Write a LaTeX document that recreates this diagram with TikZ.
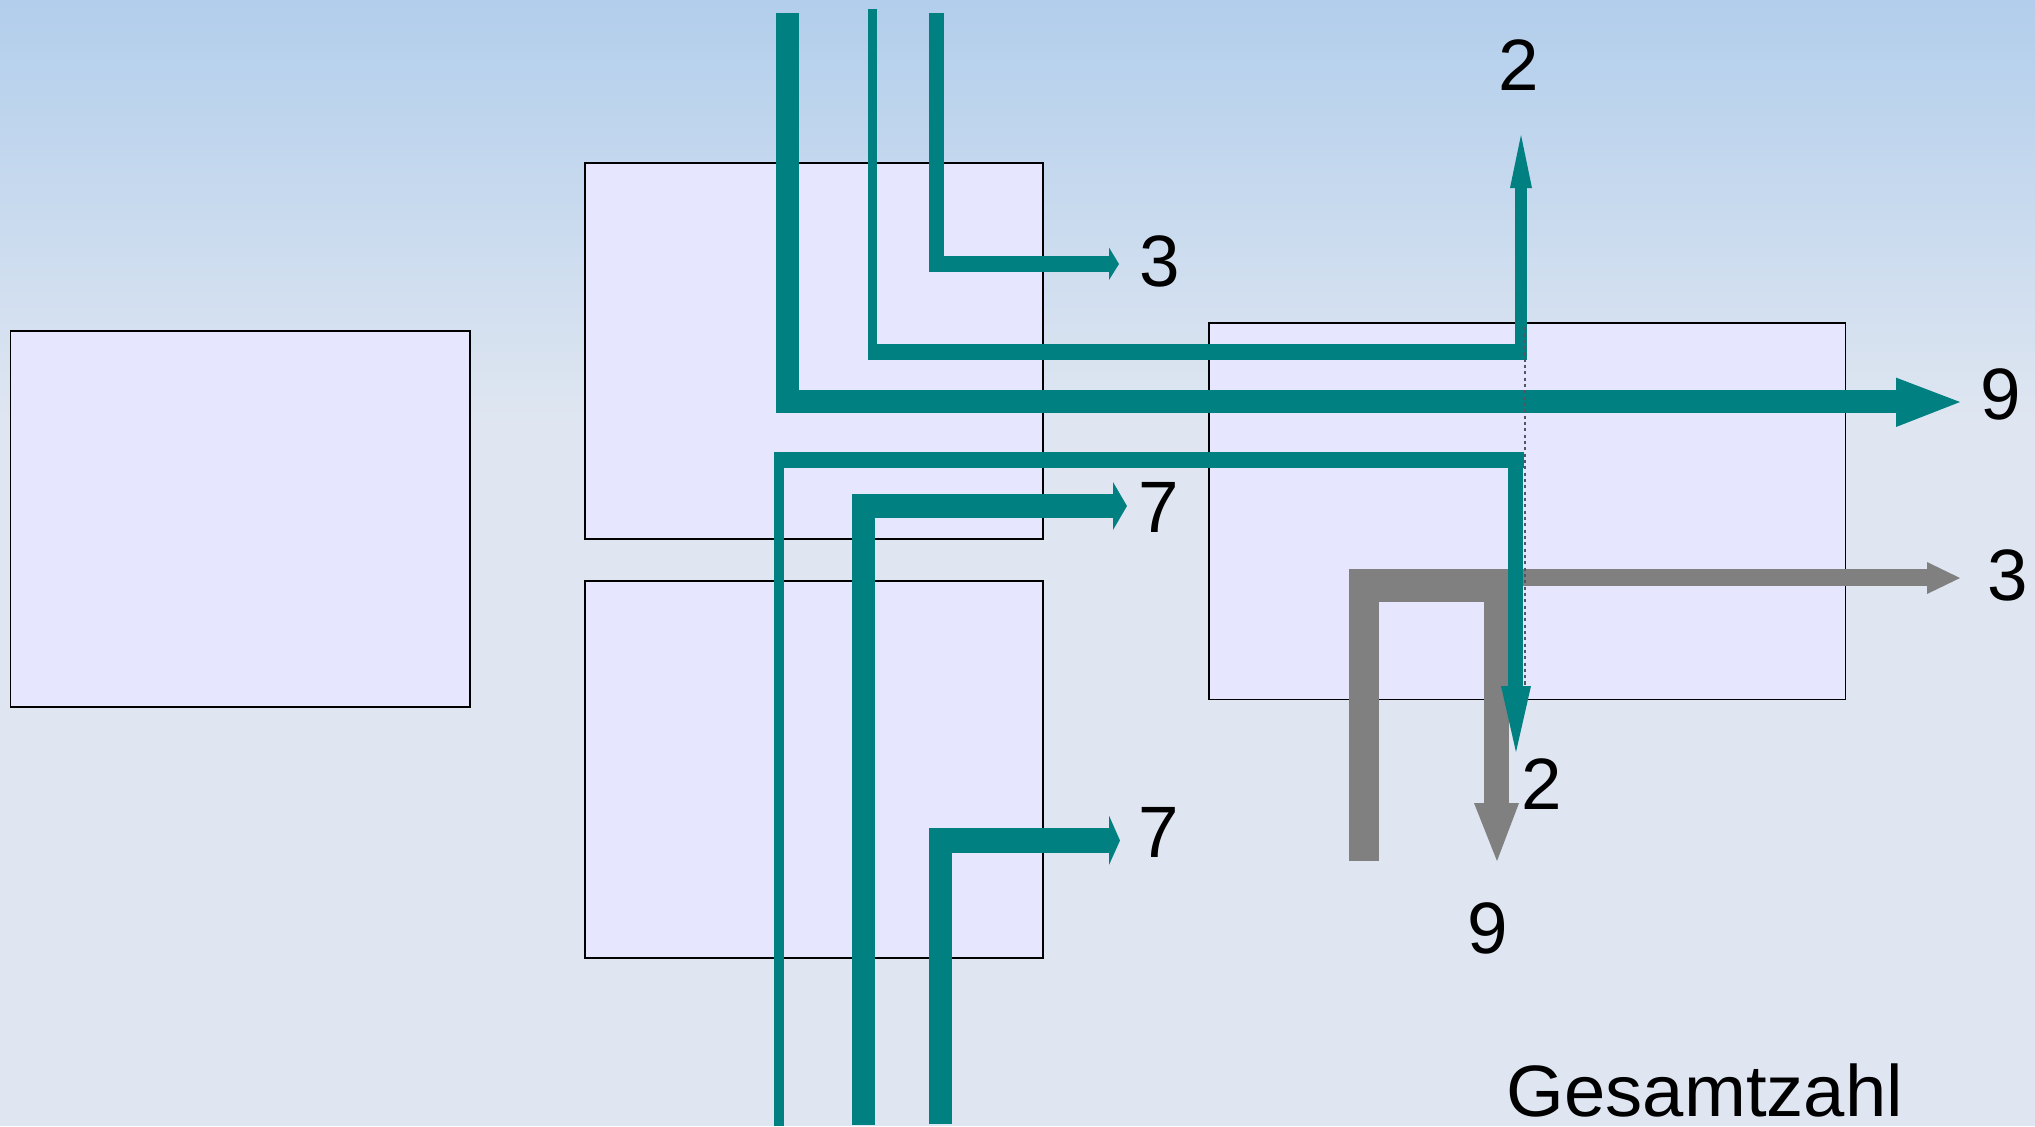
\documentclass[tikz,border=0pt]{standalone}
\usepackage{fontspec}
\setmainfont{Liberation Sans}
\definecolor{tealflow}{RGB}{0,128,128}
\definecolor{grayflow}{RGB}{128,128,128}
\definecolor{boxfill}{RGB}{230,230,255}
\definecolor{bgtop}{RGB}{178,206,236}
\definecolor{bgbot}{RGB}{223,230,241}
\definecolor{dotgray}{RGB}{85,85,95}
\begin{document}
\begin{tikzpicture}[x=0.01cm,y=-0.01cm,
  tealf/.style={fill=tealflow},
  grayf/.style={fill=grayflow},
  station/.style={draw=black,line width=0.4pt,fill=boxfill},
  lbl/.style={font=\fontsize{20.7}{25}\selectfont,inner sep=0pt,text=black}]
\useasboundingbox (0,0) rectangle (2035,1126);
% background
\shade[top color=bgtop,bottom color=bgbot] (0,0) rectangle (2035,422);
\fill[bgbot] (0,420) rectangle (2035,1126);
% boxes
\draw[station] (10.4,331) rectangle (469.8,707);
\draw[station] (585,163) rectangle (1043,539);
\draw[station] (585,581) rectangle (1043,958);
\draw[station] (1209,323) rectangle (1845.5,699.5);
% gray flow
\fill[grayf] (1349,569) rectangle (1379,861);
\fill[grayf] (1349,569) rectangle (1509,602);
\fill[grayf] (1484,569) rectangle (1509,803);
\fill[grayf] (1474,803) -- (1497,861) -- (1519,803) -- cycle;
\fill[grayf] (1484,569) rectangle (1927,586);
\fill[grayf] (1927,562) -- (1960,578) -- (1927,594) -- cycle;
% teal flow A (9)
\fill[tealf] (776,13) rectangle (799,413);
\fill[tealf] (776,390) rectangle (1896,413);
\fill[tealf] (1896,377.6) -- (1960,402) -- (1896,427) -- cycle;
% teal flow B (2 up)
\fill[tealf] (868,9) rectangle (877,360);
\fill[tealf] (868,344) rectangle (1527,360);
\fill[tealf] (1515,188) rectangle (1527,360);
\fill[tealf] (1510,188) -- (1521,135) -- (1532,188) -- cycle;
% teal flow (3)
\fill[tealf] (929,13) rectangle (944,272);
\fill[tealf] (929,256) rectangle (1109,272);
\fill[tealf] (1109,247.5) -- (1119,264) -- (1109,280) -- cycle;
% teal flow C (2 down)
\fill[tealf] (774,455) rectangle (784,1126);
\fill[tealf] (774,452) rectangle (1524,468);
\fill[tealf] (1508,468) rectangle (1523,686);
\fill[tealf] (1501,686) -- (1516,752) -- (1531,686) -- cycle;
% teal flow D (7 upper)
\fill[tealf] (852,494) rectangle (875,1125);
\fill[tealf] (852,494) rectangle (1113,518);
\fill[tealf] (1113,482) -- (1127,506) -- (1113,530) -- cycle;
% teal flow E (7 lower)
\fill[tealf] (929,828) rectangle (952,1124);
\fill[tealf] (929,828) rectangle (1109,853);
\fill[tealf] (1109,815.5) -- (1120,840.5) -- (1109,865) -- cycle;
% dotted guide
\draw[dotgray,line width=0.6pt,dash pattern=on 0.9pt off 0.9pt] (1525,327) -- (1525,686);
% labels
\node[lbl] (l3a) at (1160,261) {3};
\node[lbl] (l2a) at (1519,65) {2};
\node[lbl] (l9a) at (2001,394) {9};
\node[lbl] (l7a) at (1159,507) {7};
\node[lbl] (l3b) at (2008,575) {3};
\node[lbl] (l2b) at (1542,784) {2};
\node[lbl] (l7b) at (1159,832) {7};
\node[lbl] (l9b) at (1488,928) {9};
\node[lbl,anchor=base west,xscale=1.02] (tot) at (1506,1116) {Gesamtzahl};
\end{tikzpicture}
\end{document}
